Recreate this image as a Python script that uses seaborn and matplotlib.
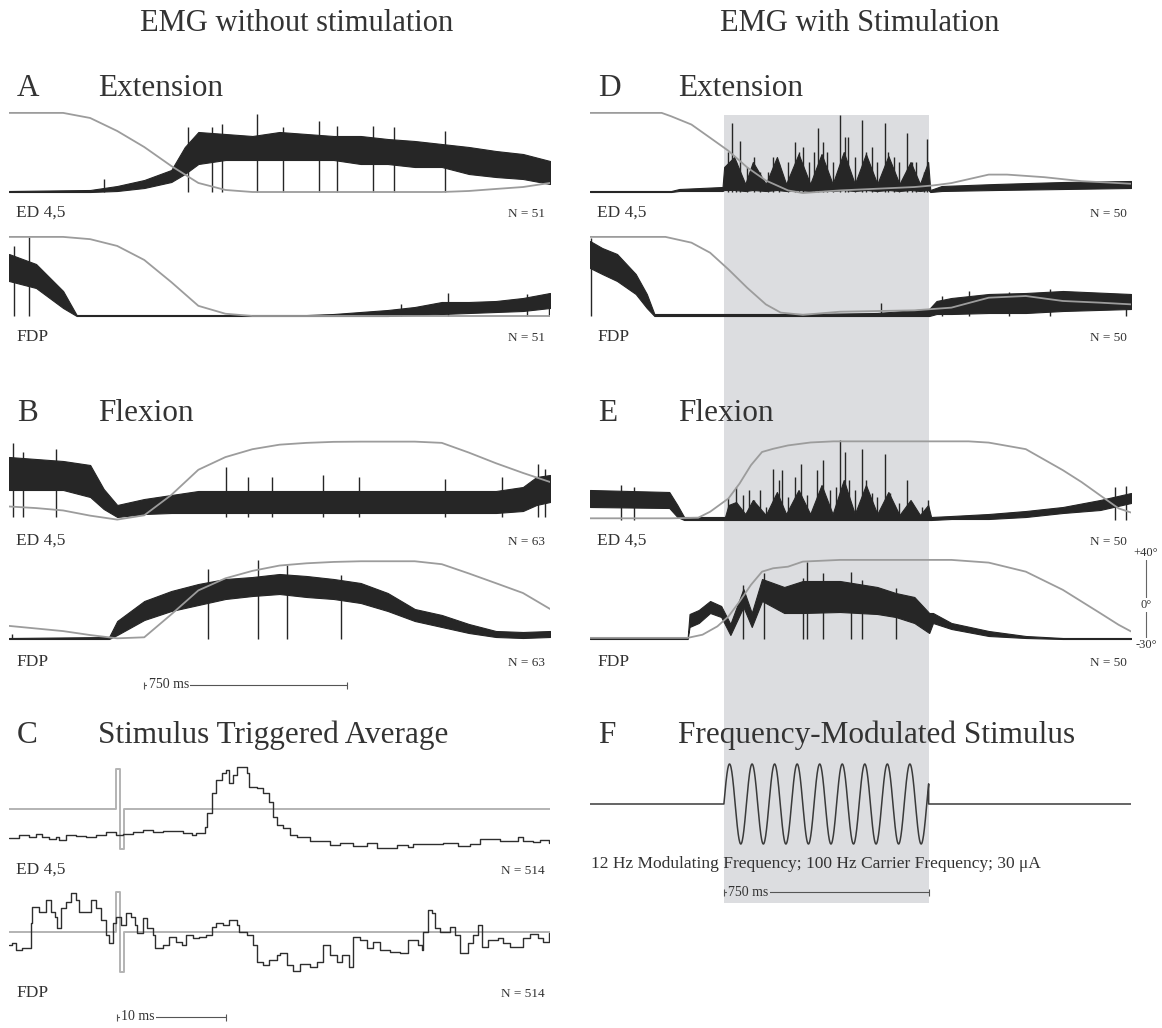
import numpy as np
import pandas as pd
import matplotlib
matplotlib.use("Agg")
import matplotlib.pyplot as plt
import seaborn as sns

# ---------------------------------------------------------------- data ----
T_GRID = [0, 100, 200, 300, 400, 500, 600, 700, 800, 900, 1000,
          1100, 1200, 1300, 1400, 1500, 1600, 1700, 1800, 1900, 2000]

# stimulation window (ms) and stimulus parameters
stim_on_ms = 495
stim_off_ms = 1252
mod_freq_hz = 12
stim_amp_ua = 30

# ---- A: Extension, no stimulation
A_ED_pos = [40, 40, 40, 35.5, 24, 9.8, -7, -22, -28.2, -30, -30, -30, -30,
            -30, -30, -30, -30, -29.1, -27.3, -25.6, -22]
A_ED_emg_t = [0, 300, 400, 500, 600, 650, 700, 800, 900, 1000, 1100, 1200,
              1300, 1400, 1500, 1600, 1700, 1800, 1900, 2000]
A_ED_emg_lo = [0, 0, 1, 4, 10, 18, 28, 32, 32, 32, 32, 32, 28, 28, 25, 25, 18, 15, 13, 8]
A_ED_emg_hi = [1, 2, 6, 12, 22, 45, 60, 58, 56, 60, 58, 56, 56, 53, 51, 48, 45, 41, 38, 31]
A_ED_spk_t = [351, 661, 749, 789, 916, 1014, 1145, 1213, 1345, 1425, 1611]
A_ED_spk_h = [13, 65, 65, 68, 78, 65, 71, 66, 66, 65, 61]

A_FDP_pos = [40, 40, 40, 38, 32, 19.6, 0, -21, -28, -30, -30, -30, -30, -30,
             -30, -30, -30, -30, -30, -30, -30]
A_FDP_emg_t = [0, 100, 200, 250, 1100, 1200, 1300, 1400, 1500, 1600, 1700, 1800, 1900, 2000]
A_FDP_emg_lo = [35, 28, 8, 0, 0, 0, 0, 0, 1, 2, 3, 4, 5, 8]
A_FDP_emg_hi = [62, 52, 25, 1, 1, 2, 4, 6, 9, 14, 14, 15, 18, 23]
A_FDP_spk_t = [20, 73, 1450, 1624, 1916, 1995]
A_FDP_spk_h = [70, 79, 12, 23, 22, 23]

# ---- B: Flexion, no stimulation
B_ED_pos = [-20.7, -22.1, -24.2, -28.8, -32.3, -28.5, -10.5, 11.8, 23, 30, 34,
            35.6, 36.5, 36.7, 36.7, 36.7, 35.6, 27, 17.6, 9, 1]
B_ED_emg_t = [0, 100, 200, 300, 350, 400, 500, 600, 700, 1800, 1900, 1950, 2000]
B_ED_emg_lo = [27, 27, 27, 20, 8, 0, 3, 4, 4, 4, 6, 12, 15]
B_ED_emg_hi = [60, 58, 56, 52, 28, 12, 18, 22, 26, 26, 30, 40, 42]
B_ED_spk_t = [13, 53, 173, 802, 882, 974, 1160, 1293, 1611, 1823, 1955, 1982]
B_ED_spk_h = [74, 65, 68, 50, 40, 40, 42, 40, 38, 40, 53, 48]

B_FDP_pos = [-18.4, -20.7, -23, -26.5, -29.4, -28.5, -8.2, 13, 23.7, 30.3, 35,
             37, 38.2, 38.8, 38.8, 38.8, 36.2, 28, 19.4, 10.7, -3.4]
B_FDP_emg_t = [0, 370, 400, 500, 600, 700, 800, 900, 1000, 1100, 1200, 1300,
               1400, 1500, 1600, 1700, 1800, 1900, 2000]
B_FDP_emg_lo = [0, 0, 4, 19, 28, 34, 40, 43, 45, 42, 40, 36, 28, 18, 12, 6, 2, 1, 2]
B_FDP_emg_hi = [1, 2, 18, 38, 48, 55, 60, 62, 65, 63, 60, 56, 46, 30, 24, 15, 8, 7, 8]
B_FDP_spk_t = [10, 736, 921, 1028, 1226]
B_FDP_spk_h = [5, 70, 79, 74, 64]

# ---- C: stimulus triggered average (ms, arbitrary units)
C_ED_t = [-10.0, -9.1, -8.2, -7.6, -7.0, -6.4, -5.8, -5.5, -4.9, -4.0, -3.1, -2.2,
          -1.3, -0.4, 0.2, 1.1, 2.0, 2.9, 3.8, 4.7, 5.6, 6.4, 6.8, 7.6, 7.8, 8.2,
          8.6, 9.1, 9.5, 9.8, 10.1, 10.5, 11.0, 11.4, 11.6, 12.3, 12.8, 13.4, 13.7,
          14.1, 14.6, 15.2, 15.9, 17.0, 18.8, 19.7, 20.9, 22.2, 23.1, 24.0, 24.9,
          25.8, 26.3, 27.8, 29.0, 30.3, 31.4, 32.3, 33.2, 34.1, 35.7, 36.2, 37.1,
          37.7, 38.5]
C_ED_v = [-29, -26, -28, -25, -28, -30, -28, -31, -26, -27, -28, -26, -23, -26,
          -25, -23, -21, -23, -22, -22, -24, -26, -24, -18, -4, 16, 29, 36, 39, 26,
          34, 42, 42, 36, 22, 21, 16, 7, -8, -16, -19, -26, -28, -32, -36, -34, -37,
          -34, -39, -39, -36, -38, -35, -35, -34, -37, -35, -30, -30, -32, -28, -32,
          -33, -31, -34]
C_FDP_t = [-10.0, -9.7, -9.4, -8.8, -8.2, -8.0, -7.9, -7.3, -6.7, -6.2, -5.9, -5.7,
           -5.3, -4.9, -4.4, -4.0, -3.7, -3.1, -2.6, -2.2, -1.7, -1.3, -1.0, -0.7,
           -0.4, 0.1, 0.5, 1.0, 1.3, 1.5, 2.0, 2.4, 2.9, 3.1, 3.8, 4.4, 5.0, 5.5,
           5.9, 6.5, 7.1, 7.7, 8.2, 8.6, 9.2, 9.8, 10.5, 10.7, 11.4, 11.9, 12.3,
           12.8, 13.4, 14.1, 14.3, 15.0, 15.5, 16.1, 17.0, 17.7, 18.2, 18.8, 19.5,
           19.9, 20.5, 20.9, 21.5, 22.2, 22.7, 23.3, 24.2, 25.1, 25.8, 26.7, 27.1,
           27.2, 27.6, 28.0, 28.3, 28.7, 29.6, 30.1, 30.5, 31.2, 31.7, 32.1, 32.5,
           33.0, 33.9, 34.4, 35.0, 35.7, 36.2, 36.8, 37.5, 38.0, 38.5]
C_FDP_v = [-13, -11, -18, -16, -16, 9, 25, 20, 32, 20, 15, 4, 24, 30, 39, 32, 20,
           20, 32, 24, 12, -3, -11, 9, 15, 7, 19, 15, 7, -1, 14, 4, -3, -16, -13,
           -5, -10, -13, -3, -6, -5, -3, 5, 9, 7, 12, 7, 0, -3, -13, -30, -33, -28,
           -23, -21, -33, -39, -32, -35, -30, -13, -23, -30, -23, -35, -5, -8, -16,
           -10, -18, -20, -21, -8, -13, -18, 0, 22, 19, 4, 0, 5, -3, -21, -11, -3,
           7, -15, -8, -6, -11, -15, -15, -6, -2, -6, -10, -1]
C_stim_t = [-10.0, -0.4, 0.0, 0.3, 38.6]
C_stim_v = [0, 40, -40, 0, 0]

# ---- D: Extension with stimulation
D_ED_pos_t = [0, 265, 300, 375, 444, 512, 581, 650, 732, 787, 924, 1062, 1199,
              1268, 1336, 1474, 1542, 1680, 1817, 2000]
D_ED_pos = [40, 40, 37, 29.7, 18, 6.4, -8.2, -19.8, -28.6, -30.9, -28.6, -27.1,
            -25.6, -24.2, -22.1, -14.6, -14.6, -16.9, -20.4, -22.7]
D_ED_emg_t = [0, 300, 330, 490, 496, 533, 574, 602, 650, 691, 725, 771, 814, 856,
              897, 938, 979, 1020, 1062, 1103, 1144, 1185, 1220, 1250, 1258, 1300,
              1500, 1750, 2000]
D_ED_emg_lo = [0, 0, 1, 1, 2, 2, 1, 2, 1, 2, 1, 2, 1, 2, 1, 2, 1, 2, 1, 2, 1, 2, 1,
               2, 0, 1, 2, 3, 4]
D_ED_emg_hi = [1, 1, 3, 5, 25, 35, 8, 30, 8, 35, 8, 38, 8, 38, 8, 40, 8, 38, 8,
               36, 8, 30, 8, 30, 2, 6, 8, 10, 11]
D_ED_spk_t = [510, 526, 540, 556, 581, 606, 629, 657, 677, 698, 732, 757, 773,
              787, 808, 828, 842, 863, 876, 897, 924, 941, 955, 979, 1007, 1020,
              1041, 1062, 1089, 1103, 1124, 1144, 1172, 1192, 1206, 1233, 1246]
D_ED_spk_h = [40, 69, 30, 51, 25, 35, 20, 20, 35, 28, 30, 50, 40, 45, 30, 40, 64,
              50, 40, 30, 77, 55, 55, 35, 72, 40, 45, 30, 69, 40, 35, 30, 59, 30,
              30, 20, 53]

D_FDP_pos_t = [0, 279, 375, 444, 512, 581, 650, 705, 787, 924, 1062, 1199, 1336,
               1474, 1611, 1748, 1886, 2000]
D_FDP_pos = [40, 40, 34.9, 26, 11.2, -5, -19.7, -27, -29, -26.2, -25.6, -25,
             -22.6, -13.8, -12.3, -16.7, -18.2, -19.7]
D_FDP_emg_t = [0, 45, 100, 169, 210, 238, 814, 1062, 1254, 1281, 1336, 1474,
               1611, 1748, 2000]
D_FDP_emg_lo = [48, 42, 35, 22, 8, 0, 0, 0, 0, 2, 2, 3, 3, 5, 7]
D_FDP_emg_hi = [75, 68, 62, 42, 22, 2, 2, 3, 7, 15, 18, 22, 23, 25, 22]
D_FDP_spk_t = [5, 1075, 1300, 1400, 1550, 1700, 1980]
D_FDP_spk_h = [78, 13, 20, 25, 24, 27, 22]

# ---- E: Flexion with stimulation
E_ED_pos_t = [0, 300, 400, 444, 512, 553, 595, 636, 677, 732, 815, 900, 1400,
              1474, 1611, 1748, 1817, 1886, 1954, 2000]
E_ED_pos = [-28.5, -28.5, -28, -22.7, -10.9, 2.3, 18.5, 30.2, 33, 36, 38.6, 39.6,
            39.6, 38.5, 32.7, 14.1, 3.6, -8.2, -19.7, -23.4]
E_ED_emg_t = [0, 293, 323, 348, 499, 512, 540, 574, 602, 650, 691, 725, 771, 814,
              856, 897, 938, 979, 1020, 1062, 1103, 1144, 1185, 1220, 1250, 1261,
              1336, 1474, 1611, 1748, 1886, 2000]
E_ED_emg_lo = [13, 12, 3, 0, 0, 0, 0, 0, 0, 0, 0, 0, 0, 0, 0, 0, 0, 0, 0, 0, 0, 0,
               0, 0, 0, 0, 1, 1, 3, 7, 10, 17]
E_ED_emg_hi = [30, 28, 15, 3, 3, 15, 18, 6, 20, 5, 28, 6, 30, 6, 35, 6, 40, 6, 35,
               6, 28, 5, 20, 5, 15, 3, 4, 6, 9, 13, 20, 27]
E_ED_spk_t = [114, 162, 512, 540, 567, 588, 608, 629, 650, 677, 698, 711, 732,
              757, 780, 801, 838, 863, 886, 911, 924, 941, 959, 979, 1004, 1020,
              1041, 1062, 1089, 1110, 1144, 1172, 1192, 1226, 1248, 1941, 1982]
E_ED_spk_h = [35, 33, 22, 33, 25, 30, 20, 30, 13, 51, 40, 50, 23, 43, 56, 25, 50,
              60, 30, 33, 80, 68, 40, 30, 71, 40, 27, 23, 66, 27, 17, 40, 17, 13,
              20, 33, 34]

E_FDP_pos_t = [0, 361, 416, 471, 512, 553, 595, 636, 677, 732, 787, 924, 1336,
               1474, 1611, 1748, 1817, 1886, 1954, 2000]
E_FDP_pos = [-29, -29, -26.2, -18.8, -10, 3.2, 17.9, 29.6, 32.6, 34, 38.5, 40, 40,
             37.6, 29.6, 13.5, 3.2, -7.1, -17.4, -23.3]
E_FDP_emg_t = [0, 361, 368, 402, 444, 485, 519, 567, 598, 636, 718, 787, 924, 1062,
               1130, 1199, 1254, 1268, 1336, 1474, 1611, 1748, 2000]
E_FDP_emg_lo = [0, 0, 12, 16, 26, 22, 4, 32, 12, 38, 26, 26, 27, 25, 22, 16, 6,
                16, 10, 3, 1, 0, 0]
E_FDP_emg_hi = [1, 1, 25, 29, 38, 33, 15, 50, 26, 60, 52, 58, 58, 52, 46, 42, 26,
                26, 16, 8, 3, 1, 1]
E_FDP_spk_t = [567, 643, 787, 803, 863, 966, 1007, 1130]
E_FDP_spk_h = [54, 66, 61, 77, 66, 67, 59, 51]

# ------------------------------------------------------------- styling ----
sns.set_style("white")
plt.rcParams["font.family"] = ["Liberation Serif", "DejaVu Serif"]

W, H = 1162, 1028
EMG_C = "#262626"
POS_C = "#9c9c9c"
TXT_C = "#333333"
SHADE_C = "#dcdde0"
PX_PER_DEG = 1.13
LEFT = (9, 550)
RIGHT = (590, 1131)

fig = plt.figure(figsize=(W / 100, H / 100), dpi=100)


def box(x0, y0, x1, y1):
    return [x0 / W, 1 - y1 / H, (x1 - x0) / W, (y1 - y0) / H]


def ftext(x, y, s, **kw):
    kw.setdefault("color", TXT_C)
    fig.text(x / W, 1 - y / H, s, **kw)


# shaded stimulation window behind right column
ax_bg = fig.add_axes(box(RIGHT[0], 115, RIGHT[1], 903))
ax_bg.set_xlim(0, 2000)
ax_bg.axvspan(stim_on_ms, stim_off_ms, color=SHADE_C, lw=0)
ax_bg.set_axis_off()


def draw_trace(col, base, pos_t, pos, emg_t, lo, hi, spk_t, spk_h):
    x0, x1 = col
    ax = fig.add_axes(box(x0, base - 88, x1, base + 6))
    ax.set_xlim(0, 2000)
    ax.set_ylim(-6, 88)
    ax.fill_between(emg_t, lo, hi, color=EMG_C, lw=0.8, edgecolor=EMG_C)
    ax.vlines(spk_t, 0, spk_h, color=EMG_C, lw=1.0)
    axp = ax.twinx()
    axp.set_ylim(-30 - 6 / PX_PER_DEG, -30 + 88 / PX_PER_DEG)
    df = pd.DataFrame({"t": pos_t, "deg": pos})
    sns.lineplot(data=df, x="t", y="deg", ax=axp, color=POS_C, lw=1.3,
                 estimator=None, sort=False)
    ax.set_axis_off()
    axp.set_axis_off()
    return ax, axp


# Row A / D
draw_trace(LEFT, 192, T_GRID, A_ED_pos, A_ED_emg_t, A_ED_emg_lo, A_ED_emg_hi, A_ED_spk_t, A_ED_spk_h)
draw_trace(LEFT, 316, T_GRID, A_FDP_pos, A_FDP_emg_t, A_FDP_emg_lo, A_FDP_emg_hi, A_FDP_spk_t, A_FDP_spk_h)
draw_trace(RIGHT, 192, D_ED_pos_t, D_ED_pos, D_ED_emg_t, D_ED_emg_lo, D_ED_emg_hi, D_ED_spk_t, D_ED_spk_h)
draw_trace(RIGHT, 316, D_FDP_pos_t, D_FDP_pos, D_FDP_emg_t, D_FDP_emg_lo, D_FDP_emg_hi, D_FDP_spk_t, D_FDP_spk_h)
# Row B / E
draw_trace(LEFT, 517, T_GRID, B_ED_pos, B_ED_emg_t, B_ED_emg_lo, B_ED_emg_hi, B_ED_spk_t, B_ED_spk_h)
draw_trace(LEFT, 639, T_GRID, B_FDP_pos, B_FDP_emg_t, B_FDP_emg_lo, B_FDP_emg_hi, B_FDP_spk_t, B_FDP_spk_h)
draw_trace(RIGHT, 520, E_ED_pos_t, E_ED_pos, E_ED_emg_t, E_ED_emg_lo, E_ED_emg_hi, E_ED_spk_t, E_ED_spk_h)
_, axp_e = draw_trace(RIGHT, 639, E_FDP_pos_t, E_FDP_pos, E_FDP_emg_t, E_FDP_emg_lo, E_FDP_emg_hi, E_FDP_spk_t, E_FDP_spk_h)

# joint-angle scale at right of E
axp_e.plot([2055, 2055], [-31.5, 42], color="#666666", lw=0.8, clip_on=False)
for deg, lab in [(46, "+40°"), (0, "0°"), (-35.5, "-30°")]:
    axp_e.text(2055, deg, lab, ha="center", va="center", fontsize=9, color=TXT_C,
               clip_on=False, bbox=dict(fc="white", ec="none", pad=0.6))

# Row C: stimulus triggered averages
for base, tt, vv in [(809, C_ED_t, C_ED_v), (932, C_FDP_t, C_FDP_v)]:
    ax = fig.add_axes(box(LEFT[0], base - 49, LEFT[1], base + 51))
    ax.set_xlim(-10, 38.6)
    ax.set_ylim(-51, 49)
    sns.lineplot(x=C_stim_t, y=C_stim_v, ax=ax, color="#b3b3b3", lw=1.4,
                 drawstyle="steps-post", estimator=None, sort=False)
    sns.lineplot(x=tt, y=vv, ax=ax, color="#2e2e2e", lw=1.0,
                 drawstyle="steps-post", estimator=None, sort=False)
    ax.set_axis_off()

# Row F: frequency-modulated stimulus
ax_f = fig.add_axes(box(RIGHT[0], 754, RIGHT[1], 854))
ax_f.set_xlim(0, 2000)
ax_f.set_ylim(-stim_amp_ua * 50 / 40, stim_amp_ua * 50 / 40)
t_stim = np.linspace(stim_on_ms, stim_off_ms, 800)
stim_wave = stim_amp_ua * np.sin(2 * np.pi * mod_freq_hz * (t_stim - stim_on_ms) / 1000.0)
f_t = np.concatenate([[0, stim_on_ms], t_stim, [stim_off_ms, 2000]])
f_v = np.concatenate([[0, 0], stim_wave, [0, 0]])
sns.lineplot(x=f_t, y=f_v, ax=ax_f, color="#3a3a3a", lw=1.1, estimator=None, sort=False)
ax_f.set_axis_off()


# scale bars
def scale_bar(col, y, xlim, t0, t1, label, bg):
    ax = fig.add_axes(box(col[0], y - 8, col[1], y + 8))
    ax.set_xlim(*xlim)
    ax.set_ylim(-8, 8)
    ax.plot([t0, t1], [0, 0], color="#555555", lw=0.8)
    ax.vlines([t0, t1], -3.5, 3.5, color="#555555", lw=0.8)
    span = xlim[1] - xlim[0]
    ax.text(t0 + span * 0.008, 0, label, ha="left", va="center", fontsize=10,
            color=TXT_C, bbox=dict(fc=bg, ec="none", pad=1.0))
    ax.set_axis_off()


scale_bar(LEFT, 685, (0, 2000), 500, 1250, "750 ms", "white")
scale_bar(RIGHT, 892, (0, 2000), stim_on_ms, stim_off_ms, "750 ms", SHADE_C)
scale_bar(LEFT, 1017, (-10, 38.6), -0.3, 9.5, "10 ms", "white")

# ---------------------------------------------------------------- text ----
ftext(297, 31, "EMG without stimulation", fontsize=22, ha="center", va="baseline")
ftext(860, 31, "EMG with Stimulation", fontsize=22, ha="center", va="baseline")

for xl, xt, y, letter, title in [
        (17, 98, 96, "A", "Extension"), (17, 98, 421, "B", "Flexion"),
        (17, 98, 743, "C", "Stimulus Triggered Average"),
        (598, 678, 96, "D", "Extension"), (598, 678, 421, "E", "Flexion"),
        (598, 678, 743, "F", "Frequency-Modulated Stimulus")]:
    ftext(xl, y, letter, fontsize=22.5, ha="left", va="baseline")
    ftext(xt, y, title, fontsize=22.5, ha="left", va="baseline")

muscle_rows = [(213, "ED 4,5"), (337, "FDP"), (541, "ED 4,5"), (662, "FDP"),
               (870, "ED 4,5"), (993, "FDP")]
n_left = ["N = 51", "N = 51", "N = 63", "N = 63", "N = 514", "N = 514"]
n_right = ["N = 50", "N = 50", "N = 50", "N = 50"]
for i, (y, lab) in enumerate(muscle_rows):
    ftext(16, y, lab, fontsize=12.5, ha="left", va="center")
    ftext(545, y + 1, n_left[i], fontsize=9.5, ha="right", va="center")
    if i < 4:
        ftext(597, y, lab, fontsize=12.5, ha="left", va="center")
        ftext(1127, y + 1, n_right[i], fontsize=9.5, ha="right", va="center")

ftext(591, 864, "12 Hz Modulating Frequency; 100 Hz Carrier Frequency; 30 μA",
      fontsize=12.5, ha="left", va="center")

fig.savefig("out.png", dpi=100, facecolor="white")
